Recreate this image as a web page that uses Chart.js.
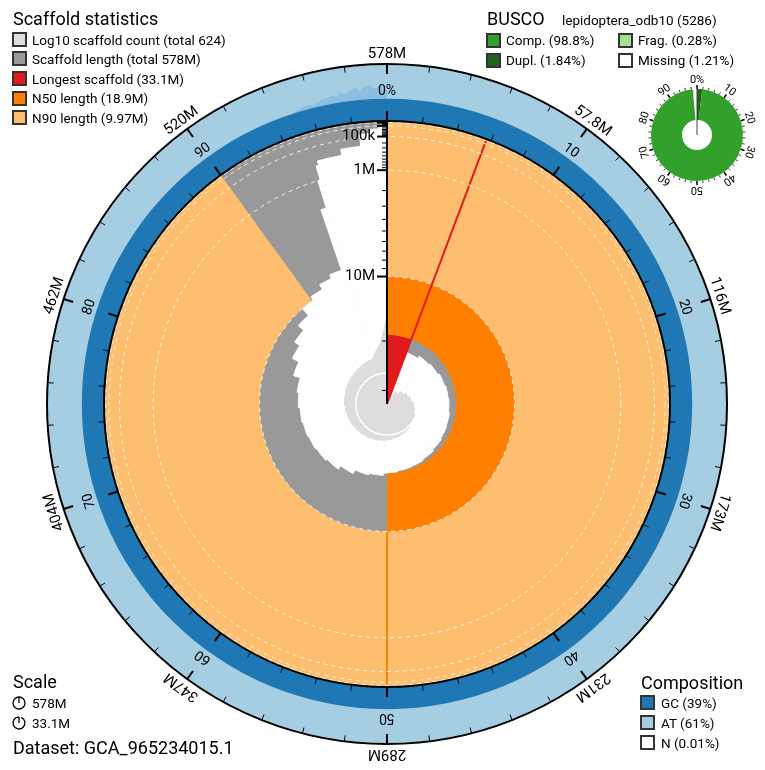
<!DOCTYPE html>
<html>
<head>
<meta charset="utf-8">
<script src="https://cdn.jsdelivr.net/npm/chart.js@4.4.1/dist/chart.umd.min.js"></script>
<style>
  body { margin: 0; background: #fff; font-family: Roboto, sans-serif; }
  #wrap { position: relative; width: 765px; height: 770px; overflow: hidden; }
  canvas { position: absolute; left: 0; top: 0; }
  .t { position: absolute; white-space: nowrap; line-height: 1; color: #000; }
  .box { position: absolute; width: 11px; height: 11px; border: 2px solid #333; }
</style>
</head>
<body>
<div id="wrap">
  <canvas id="ring" width="765" height="770"></canvas>
  <canvas id="snail" width="765" height="770"></canvas>
  <canvas id="count" width="765" height="770"></canvas>
  <canvas id="sectors" width="765" height="770"></canvas>
  <canvas id="axes" width="765" height="770"></canvas>
  <canvas id="busco" width="140" height="140" style="left:627px;top:65px"></canvas>
</div>
<script>
// ---- data ----
const totalLength = 578;      // Mb
const scaffoldCount = 624;
const longest = 33.1;
const n50 = 18.9;
const n90 = 9.97;

// chromosome-sized scaffolds (Mb), longest first
const chromLengths = [33.1, 21.5, 21.0, 20.8, 20.5, 20.3, 20.2, 20.0, 19.9, 19.7, 19.5, 19.3, 19.2, 18.9,
  18.5, 18.2, 17.5, 16.8, 16.5, 16.3, 16.1, 15.9, 15.6, 15.3, 14.2, 13.1, 12.2, 11.2, 9.97, 9.5, 8.8, 8.3];
// remaining small scaffolds as [how many, length Mb]
const tailGroups = [[1, 2.5], [1, 1.0], [2, 0.5], [24, 0.38], [30, 0.24], [60, 0.06], [120, 0.025], [354, 0.0077]];

const gcShare = 0.39;
// upper GC spread of the small scaffolds, 95% -> 100%, steps of 0.25%
const gcTailMax = [0.41, 0.43, 0.44, 0.45, 0.44, 0.47, 0.48, 0.5, 0.52, 0.5, 0.55, 0.53, 0.57, 0.6, 0.56, 0.62, 0.63, 0.58, 0.6, 0.55];

const outerTickLabels = ['578M', '57.8M', '116M', '173M', '231M', '289M', '347M', '404M', '462M', '520M'];
const innerTickLabels = ['0%', '10', '20', '30', '40', '50', '60', '70', '80', '90'];
const lengthTickLabels = { 0.1: '100k', 1: '1M', 10: '10M' };

const buscoValues = [1.84, 96.96, 0.28, 1.21];   // dupl, single complete, frag, missing
const buscoColors = ['#20641c', '#33a02c', '#a3e28c', '#ffffff'];
const buscoTickLabels = ['0%', '10', '20', '30', '40', '50', '60', '70', '80', '90'];

const statsLegend = [
  ['Log10 scaffold count (total 624)', '#dddddd'],
  ['Scaffold length (total 578M)', '#999999'],
  ['Longest scaffold (33.1M)', '#e31a1c'],
  ['N50 length (18.9M)', '#ff7f00'],
  ['N90 length (9.97M)', '#fdbf6f']
];
const buscoLegend = [
  ['Comp. (98.8%)', '#33a02c', 486, 33],
  ['Frag. (0.28%)', '#a3e28c', 618, 33],
  ['Dupl. (1.84%)', '#20641c', 486, 53],
  ['Missing (1.21%)', '#ffffff', 618, 53]
];
const compLegend = [['GC (39%)', '#1f78b4'], ['AT (61%)', '#a6cee3'], ['N (0.01%)', '#ffffff']];

// ---- layout ----
const W = 765, H = 770, CX = 387, CY = 404;
const R_IN = 283, R_OUT = 340, COUNT_R = 87;
const pad = r => ({ left: CX - r, top: CY - r, right: W - CX - r, bottom: H - CY - r });

const segs = chromLengths.map(l => ({ len: l, n: 1 })).concat(tailGroups.map(g => ({ len: g[1], n: g[0] })));
const sumLen = segs.reduce((a, s) => a + s.len * s.n, 0);
const segAngles = segs.map(s => s.len * s.n / sumLen * 360);
const segValues = segs.map(s => Math.sqrt(s.len));

const countValues = [], countAngles = [];
let seen = 0;
segs.forEach(s => {
  const k = s.n > 60 ? 30 : s.n;
  for (let j = 0; j < k; j++) {
    countValues.push(Math.log10(seen + (j + 0.5) * s.n / k + 0.5));
    countAngles.push(s.len * s.n / k / sumLen * 360);
  }
  seen += s.n;
});

const gcSpreadValues = [0].concat(gcTailMax);
const gcSpreadAngles = [0.95 * 360].concat(gcTailMax.map(() => 0.05 / gcTailMax.length * 360));

const base = {
  responsive: false, animation: false, events: [],
  plugins: { legend: { display: false }, tooltip: { enabled: false } }
};
const hiddenR = (extra) => Object.assign({
  type: 'radialLinear', display: false,
  ticks: { display: false }, angleLines: { display: false }, pointLabels: { display: false }
}, extra);

function polar(cx, cy, r, frac) {
  const a = frac * 2 * Math.PI - Math.PI / 2;
  return [cx + r * Math.cos(a), cy + r * Math.sin(a)];
}
function seg(ctx, a, b) { ctx.beginPath(); ctx.moveTo(a[0], a[1]); ctx.lineTo(b[0], b[1]); ctx.stroke(); }

// composition ring
new Chart(document.getElementById('ring'), {
  type: 'polarArea',
  data: {
    datasets: [
      { data: [gcShare], angle: 360, backgroundColor: '#1f78b4', borderWidth: 0 },
      { data: gcSpreadValues, angle: c => gcSpreadAngles[c.dataIndex], backgroundColor: '#8bbde0', borderWidth: 0 },
      { data: [1], angle: 360, backgroundColor: '#a6cee3', borderWidth: 0 }
    ]
  },
  options: Object.assign({}, base, {
    layout: { padding: pad(R_OUT) },
    scales: { r: hiddenR({ min: -R_IN / (R_OUT - R_IN), max: 1 }) }
  })
});

// scaffold length spiral
new Chart(document.getElementById('snail'), {
  type: 'polarArea',
  data: {
    datasets: [
      { data: segValues, angle: c => segAngles[c.dataIndex], backgroundColor: '#ffffff', borderColor: '#ffffff', borderWidth: 1 },
      { data: [0], angle: 360, backgroundColor: '#999999', borderWidth: 0 }
    ]
  },
  options: Object.assign({}, base, {
    layout: { padding: pad(R_IN) },
    scales: { r: hiddenR({ min: 0, max: Math.sqrt(longest), reverse: true }) }
  })
});

// log10 scaffold count spiral
new Chart(document.getElementById('count'), {
  type: 'polarArea',
  data: {
    datasets: [
      { data: countValues, angle: c => countAngles[c.dataIndex], backgroundColor: '#dddddd', borderColor: '#dddddd', borderWidth: 1 }
    ]
  },
  options: Object.assign({}, base, {
    layout: { padding: pad(COUNT_R) },
    scales: {
      r: {
        type: 'radialLinear', min: 0, max: Math.log10(scaffoldCount),
        afterBuildTicks: s => { s.ticks = [{ value: 0 }, { value: 1 }]; },
        ticks: { display: false }, angleLines: { display: false }, pointLabels: { display: false },
        grid: { color: '#ffffff', lineWidth: 1.5, z: 1 }
      }
    }
  })
});

// longest / N50 / N90 sectors
const rN50 = R_IN * (1 - Math.sqrt(n50 / longest));
const rN90 = R_IN * (1 - Math.sqrt(n90 / longest));
const clear = 'rgba(0,0,0,0)';
const sectorEdges = {
  id: 'sectorEdges',
  afterDatasetsDraw(chart) {
    const ctx = chart.ctx;
    const outer = chart.getDatasetMeta(0).data[0];
    const mid = chart.getDatasetMeta(1).data[0];
    const red = chart.getDatasetMeta(2).data[0];
    const ray = (arc, a, r0, r1, col) => {
      ctx.save();
      ctx.strokeStyle = col; ctx.lineWidth = 2;
      ctx.beginPath();
      ctx.moveTo(arc.x + r0 * Math.cos(a), arc.y + r0 * Math.sin(a));
      ctx.lineTo(arc.x + r1 * Math.cos(a), arc.y + r1 * Math.sin(a));
      ctx.stroke(); ctx.restore();
    };
    ray(red, red.endAngle, 0, outer.outerRadius, '#e31a1c');
    ray(mid, mid.endAngle, mid.outerRadius, outer.outerRadius, '#ff7f00');
  }
};
new Chart(document.getElementById('sectors'), {
  type: 'doughnut',
  data: {
    datasets: [
      { data: [90, 10], backgroundColor: ['#fdbf6f', clear], weight: R_IN - rN90 },
      { data: [50, 50], backgroundColor: ['#ff7f00', clear], weight: rN90 - rN50 },
      { data: [longest, totalLength - longest], backgroundColor: ['#e31a1c', clear], weight: rN50 }
    ]
  },
  options: Object.assign({}, base, {
    cutout: 0, borderWidth: 0,
    layout: { padding: pad(R_IN) }
  }),
  plugins: [sectorEdges]
});

// axes, dashed length circles, tick labels
const lengthTicks = [];
[0.001, 0.01, 0.1, 1, 10].forEach(d => {
  for (let m = 1; m <= 9; m++) if (d * m <= longest) lengthTicks.push(d * m);
});
const snailAxes = {
  id: 'snailAxes',
  afterDraw(chart) {
    const s = chart.scales.r, ctx = chart.ctx;
    const cx = s.xCenter, cy = s.yCenter, R = s.drawingArea;
    ctx.save();
    ctx.strokeStyle = '#000'; ctx.fillStyle = '#000';
    ctx.lineWidth = 2;
    [R, R_OUT].forEach(r => { ctx.beginPath(); ctx.arc(cx, cy, r, 0, 2 * Math.PI); ctx.stroke(); });
    for (let k = 0; k < 50; k++) {
      const f = k / 50, major = k % 5 === 0;
      ctx.lineWidth = major ? 2 : 1;
      seg(ctx, polar(cx, cy, R, f), polar(cx, cy, R + (major ? 10 : 6), f));
      seg(ctx, polar(cx, cy, R_OUT, f), polar(cx, cy, R_OUT - (major ? 10 : 6), f));
    }
    ctx.textAlign = 'center';
    outerTickLabels.forEach((t, i) => {
      ctx.save(); ctx.translate(cx, cy); ctx.rotate(i / 10 * 2 * Math.PI);
      ctx.font = '15px Roboto'; ctx.textBaseline = 'alphabetic';
      ctx.fillText(t, 0, -(R_OUT + 6)); ctx.restore();
    });
    innerTickLabels.forEach((t, i) => {
      ctx.save(); ctx.translate(cx, cy); ctx.rotate(i / 10 * 2 * Math.PI);
      ctx.font = '14px Roboto'; ctx.textBaseline = 'middle';
      ctx.fillText(t, 0, -(R + 30)); ctx.restore();
    });
    // radial length axis
    ctx.lineWidth = 2;
    seg(ctx, [cx, cy], [cx, cy - R]);
    ctx.textAlign = 'right'; ctx.textBaseline = 'middle'; ctx.font = '15px Roboto';
    lengthTicks.forEach(v => {
      const y = cy - s.getDistanceFromCenterForValue(Math.sqrt(v));
      const major = Math.abs(Math.log10(v) - Math.round(Math.log10(v))) < 1e-6;
      ctx.lineWidth = major ? 2 : 1;
      seg(ctx, [cx, y], [cx - (major ? 10 : 5), y]);
      if (lengthTickLabels[v] !== undefined) ctx.fillText(lengthTickLabels[v], cx - 12, y);
    });
    ctx.restore();
  }
};
new Chart(document.getElementById('axes'), {
  type: 'polarArea',
  data: { labels: [], datasets: [{ data: [] }] },
  options: Object.assign({}, base, {
    layout: { padding: pad(R_IN) },
    scales: {
      r: {
        type: 'radialLinear', min: 0, max: Math.sqrt(longest), reverse: true,
        afterBuildTicks: sc => { sc.ticks = [{ value: 0 }].concat([0.001, 0.01, 0.1, 1, 10].map(v => ({ value: Math.sqrt(v) }))); },
        ticks: { display: false }, angleLines: { display: false }, pointLabels: { display: false },
        grid: { color: 'rgba(255,255,255,0.85)', lineWidth: 1 },
        border: { dash: [4, 4] }
      }
    }
  }),
  plugins: [snailAxes]
});

// BUSCO donut
const buscoAxes = {
  id: 'buscoAxes',
  afterDraw(chart) {
    const arc = chart.getDatasetMeta(0).data[0], ctx = chart.ctx;
    const cx = arc.x, cy = arc.y, R = arc.outerRadius;
    ctx.save();
    ctx.strokeStyle = '#444'; ctx.lineWidth = 1;
    seg(ctx, [cx, cy], [cx, cy - R]);
    ctx.strokeStyle = '#000';
    for (let k = 0; k < 50; k++) {
      const major = k % 5 === 0;
      ctx.lineWidth = major ? 1.5 : 0.8;
      seg(ctx, polar(cx, cy, R, k / 50), polar(cx, cy, R + (major ? 4 : 2.5), k / 50));
    }
    ctx.fillStyle = '#000'; ctx.textAlign = 'center'; ctx.textBaseline = 'middle'; ctx.font = '11px Roboto';
    buscoTickLabels.forEach((t, i) => {
      ctx.save(); ctx.translate(cx, cy); ctx.rotate(i / 10 * 2 * Math.PI);
      ctx.fillText(t, 0, -(R + 9)); ctx.restore();
    });
    ctx.restore();
  }
};
new Chart(document.getElementById('busco'), {
  type: 'doughnut',
  data: { datasets: [{ data: buscoValues, backgroundColor: buscoColors, borderWidth: 0 }] },
  options: Object.assign({}, base, { cutout: 15, layout: { padding: 24 } }),
  plugins: [buscoAxes]
});

// ---- text legends ----
const wrap = document.getElementById('wrap');
function put(text, x, baseline, size) {
  const d = document.createElement('div');
  d.className = 't'; d.textContent = text;
  d.style.left = x + 'px'; d.style.top = (baseline - 0.842 * size) + 'px'; d.style.fontSize = size + 'px';
  wrap.appendChild(d);
}
function box(x, y, color) {
  const b = document.createElement('div');
  b.className = 'box'; b.style.left = x + 'px'; b.style.top = y + 'px'; b.style.background = color;
  wrap.appendChild(b);
}
put('Scaffold statistics', 13, 25, 18);
statsLegend.forEach((it, i) => {
  const top = 31.7 + i * 19.6;
  box(12, top, it[1]);
  put(it[0], 32, top + 13.3, 13.5);
});
put('BUSCO', 487, 25, 18);
put('lepidoptera_odb10 (5286)', 562, 25, 13.5);
buscoLegend.forEach(it => { box(it[2], it[3], it[1]); put(it[0], it[2] + 20, it[3] + 12.5, 13.5); });

put('Scale', 13, 688, 18);
put('578M', 32, 708, 13.5);
put('33.1M', 32, 728, 13.5);
put('Dataset: GCA_965234015.1', 13, 754, 18);
wrap.insertAdjacentHTML('beforeend',
  '<svg width="16" height="40" style="position:absolute;left:11px;top:695px">' +
  '<circle cx="8" cy="8" r="6" fill="none" stroke="#000" stroke-width="1.3"/>' +
  '<line x1="8" y1="8" x2="8" y2="2" stroke="#000" stroke-width="1.3"/>' +
  '<path d="M8 22 A6 6 0 1 0 10.1 22.4" fill="none" stroke="#000" stroke-width="1.3"/>' +
  '<line x1="8" y1="28" x2="8" y2="22" stroke="#000" stroke-width="1.3"/></svg>');

put('Composition', 641, 689, 18);
compLegend.forEach((it, i) => {
  const top = 695 + i * 20;
  box(640, top, it[1]);
  put(it[0], 661, top + 13.3, 13.5);
});
</script>
</body>
</html>
